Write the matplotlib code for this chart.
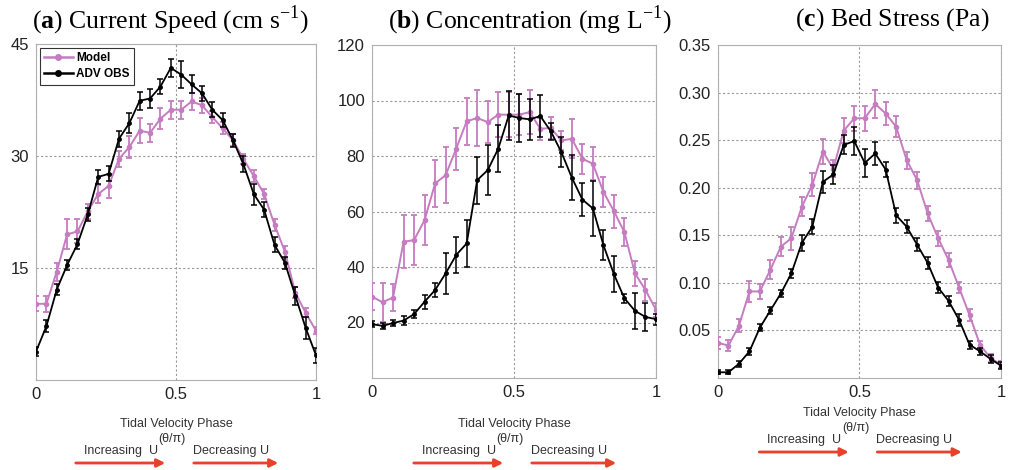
import numpy as np
import matplotlib
matplotlib.use("Agg")
import matplotlib.pyplot as plt
from matplotlib.lines import Line2D
from matplotlib.patches import FancyArrowPatch

plt.rcParams['font.family'] = ['Liberation Sans', 'DejaVu Sans']
plt.rcParams['mathtext.fontset'] = 'custom'
plt.rcParams['mathtext.rm'] = 'Liberation Serif'
plt.rcParams['mathtext.bf'] = 'Liberation Serif:bold'

# tidal phase samples (theta/pi)
n_pts = 28
phase = np.linspace(0, 1, n_pts)

# (a) current speed, cm/s
a_mod = [10.2, 10.2, 14.5, 19.5, 19.9, 22.6, 24.9, 26.0, 29.6, 31.2, 33.4, 33.1, 35.0, 36.2,
         36.2, 37.3, 36.8, 35.2, 33.7, 32.1, 29.6, 27.3, 24.9, 20.8, 17.2, 11.7, 9.0, 6.6]
a_mod_err = [1.0, 1.1, 1.2, 2.0, 1.6, 1.0, 1.2, 1.6, 1.1, 1.5, 1.7, 1.2, 1.4, 1.2,
             1.2, 1.2, 1.0, 0.8, 0.8, 0.8, 0.7, 0.8, 0.7, 0.8, 0.8, 0.7, 0.6, 0.5]
a_obs = [3.8, 7.2, 12.1, 15.4, 18.2, 22.2, 27.2, 27.6, 32.3, 34.4, 37.4, 37.7, 39.3, 41.8,
         40.9, 39.6, 38.4, 36.2, 34.8, 32.1, 28.9, 24.9, 22.8, 18.1, 15.7, 11.3, 7.0, 3.3]
a_obs_err = [0.6, 0.8, 0.7, 0.7, 0.7, 0.9, 0.9, 1.0, 1.1, 1.3, 1.2, 1.3, 1.0, 1.2,
             1.8, 1.2, 1.0, 1.0, 0.9, 0.9, 1.1, 1.4, 1.0, 1.0, 0.8, 1.2, 1.5, 1.0]

# (b) concentration, mg/L
b_mod = [29.3, 27.3, 29.0, 49.1, 49.7, 56.9, 70.1, 73.1, 82.6, 92.5, 93.7, 92.2, 94.9, 94.9,
         94.9, 95.8, 89.8, 90.1, 85.6, 86.2, 79.0, 77.2, 67.1, 60.1, 52.5, 37.7, 31.7, 24.6]
b_mod_err = [4.8, 7.0, 5.0, 9.6, 9.0, 9.0, 8.5, 10.0, 7.5, 8.5, 10.0, 7.5, 8.0, 8.0,
             7.5, 8.0, 4.0, 4.0, 3.5, 7.0, 5.5, 6.0, 5.5, 6.0, 5.0, 4.5, 4.0, 2.5]
b_obs = [19.4, 18.8, 19.8, 20.7, 23.0, 27.5, 31.7, 37.7, 44.3, 48.5, 71.3, 74.9, 82.6, 94.6,
         93.7, 93.2, 94.4, 88.9, 81.4, 72.2, 64.3, 61.1, 47.9, 37.4, 28.7, 24.2, 22.0, 21.2]
b_obs_err = [1.0, 1.2, 1.0, 1.5, 1.5, 2.5, 2.5, 7.5, 6.5, 8.5, 8.5, 9.0, 8.5, 9.0,
             8.5, 7.5, 7.5, 3.0, 5.5, 8.0, 6.0, 10.0, 5.5, 6.5, 1.5, 6.5, 5.0, 2.0]

# (c) bed stress, Pa
c_mod = [0.037, 0.034, 0.055, 0.091, 0.091, 0.114, 0.138, 0.147, 0.180, 0.203, 0.238, 0.220, 0.260, 0.273,
         0.273, 0.288, 0.278, 0.264, 0.229, 0.208, 0.173, 0.147, 0.124, 0.095, 0.066, 0.035, 0.021, 0.014]
c_mod_err = [0.006, 0.006, 0.007, 0.011, 0.008, 0.010, 0.010, 0.012, 0.010, 0.012, 0.013, 0.009, 0.013, 0.013,
             0.013, 0.015, 0.012, 0.011, 0.009, 0.009, 0.008, 0.008, 0.007, 0.006, 0.006, 0.004, 0.004, 0.004]
c_obs = [0.006, 0.006, 0.015, 0.028, 0.053, 0.071, 0.089, 0.110, 0.142, 0.159, 0.206, 0.214, 0.245, 0.249,
         0.226, 0.236, 0.219, 0.171, 0.159, 0.140, 0.121, 0.095, 0.081, 0.061, 0.035, 0.028, 0.020, 0.013]
c_obs_err = [0.002, 0.002, 0.003, 0.004, 0.004, 0.004, 0.004, 0.005, 0.008, 0.008, 0.012, 0.010, 0.010, 0.015,
             0.015, 0.012, 0.008, 0.008, 0.007, 0.007, 0.006, 0.006, 0.005, 0.006, 0.004, 0.004, 0.004, 0.004]

titles = [r'($\mathbf{a}$) Current Speed (cm s$^{-1}$)',
          r'($\mathbf{b}$) Concentration (mg L$^{-1}$)',
          r'($\mathbf{c}$) Bed Stress (Pa)']
ylims = [(0, 45), (0, 120), (0, 0.35)]
yticks = [[15, 30, 45], [20, 40, 60, 80, 100, 120], [0.05, 0.10, 0.15, 0.20, 0.25, 0.30, 0.35]]
ylabels_fmt = ['{:.0f}', '{:.0f}', '{:.2f}']

pink = '#c57cc0'
txt_col = '#333333'
fig = plt.figure(figsize=(10.12, 4.70), dpi=100)
W, H = 1012, 470
boxes = [(36, 44, 316, 380), (372, 45, 656, 378), (718, 45, 1001, 378)]
title_x = [170, 530, 892]

series = [(a_mod, a_mod_err, a_obs, a_obs_err),
          (b_mod, b_mod_err, b_obs, b_obs_err),
          (c_mod, c_mod_err, c_obs, c_obs_err)]

for i, (l, t, r, b) in enumerate(boxes):
    ax = fig.add_axes([l / W, 1 - b / H, (r - l) / W, (b - t) / H])
    mod, mod_err, obs, obs_err = series[i]
    ax.errorbar(phase, mod, yerr=mod_err, color=pink, lw=1.4, marker='o', ms=3,
                capsize=2.5, elinewidth=1.3, capthick=1.3, zorder=3)
    ax.errorbar(phase, obs, yerr=obs_err, color='black', lw=1.3, marker='o', ms=2.5,
                capsize=2.5, elinewidth=1.1, capthick=1.1, zorder=4)
    ax.set_xlim(0, 1)
    ax.set_ylim(*ylims[i])
    ax.set_xticks([0, 0.5, 1])
    ax.set_xticklabels(['0', '0.5', '1'])
    ax.set_yticks(yticks[i])
    ax.set_yticklabels([ylabels_fmt[i].format(v) for v in yticks[i]])
    ax.tick_params(length=0, labelsize=12, colors='#222222', pad=5)
    ax.grid(True, ls=(0, (2, 2)), color='#999999', lw=0.8)
    for s in ax.spines.values():
        s.set_color('#b0b0b0')
    if i == 0:
        handles = [Line2D([], [], color=pink, lw=1.8, marker='o', ms=4),
                   Line2D([], [], color='black', lw=1.8, marker='o', ms=4)]
        leg = ax.legend(handles, ['Model', 'ADV OBS'], loc='upper left', fontsize=8.5,
                        frameon=True, fancybox=False, handlelength=2.4, borderpad=0.35,
                        labelspacing=0.35, borderaxespad=0.35, handletextpad=0.3)
        leg.get_frame().set_edgecolor('black')
        leg.get_frame().set_linewidth(0.8)
        for txt in leg.get_texts():
            txt.set_fontweight('bold')

    fig.text(title_x[i] / W, 1 - 20 / H, titles[i], ha='center', va='center',
             fontsize=18.5, family='Liberation Serif')

    # phase annotation below each panel
    dy = -11 if i == 2 else 0
    cx = (l + r) / 2
    fig.text(cx / W, 1 - (424 + dy) / H, 'Tidal Velocity Phase', ha='center', va='center',
             fontsize=9, color=txt_col)
    fig.text((cx - 4) / W, 1 - (439 + dy) / H, '(θ/π)', ha='center', va='center',
             fontsize=9, color=txt_col)
    fig.text((cx - 55) / W, 1 - (451 + dy) / H, 'Increasing  U', ha='center', va='center',
             fontsize=9, color=txt_col)
    fig.text((cx + 55) / W, 1 - (451 + dy) / H, 'Decreasing U', ha='center', va='center',
             fontsize=9, color=txt_col)
    for x0, x1 in [(cx - 103, cx - 8), (cx + 15, cx + 105)]:
        fig.patches.append(FancyArrowPatch(
            (x0 / W, 1 - (463 + dy) / H), (x1 / W, 1 - (463 + dy) / H),
            transform=fig.transFigure, arrowstyle='-|>', mutation_scale=12,
            color='#e8402a', lw=2))

fig.savefig('out.png', dpi=100)
